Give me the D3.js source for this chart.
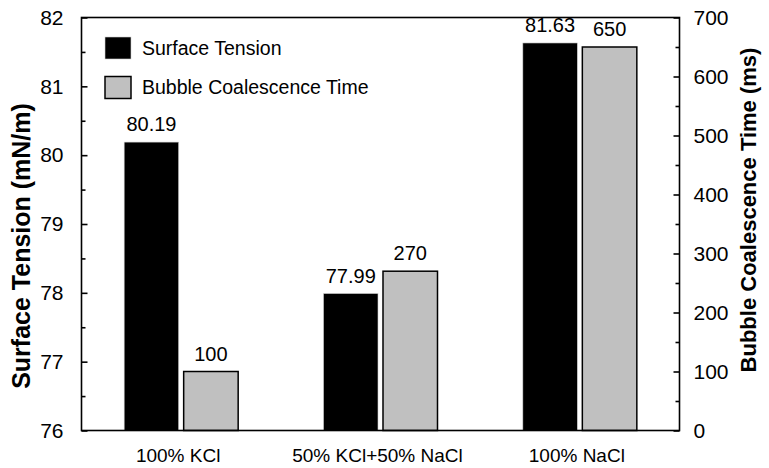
<!DOCTYPE html>
<html>
<head>
<meta charset="utf-8">
<script src="https://cdn.jsdelivr.net/npm/d3@7/dist/d3.min.js"></script>
<style>
  html, body { margin: 0; padding: 0; background: #fff; }
  svg { display: block; font-family: "Liberation Sans", Arial, sans-serif; }
</style>
</head>
<body>
<svg id="chart" width="769" height="468"></svg>
<script>
const categories = ["100% KCl", "50% KCl+50% NaCl", "100% NaCl"];
const seriesNames = ["Surface Tension", "Bubble Coalescence Time"];
const surfaceTension = [80.19, 77.99, 81.63];
const coalescenceTime = [100, 270, 650];
const leftTicks = [76, 77, 78, 79, 80, 81, 82];
const rightTicks = [0, 100, 200, 300, 400, 500, 600, 700];

const svg = d3.select("#chart");
const m = { left: 81.5, right: 679.5, top: 17.5, bottom: 430.5 };

const x0 = d3.scaleBand().domain(categories).range([m.left, m.right]).paddingInner(0).paddingOuter(0);
const groupW = 114;
const x1 = d3.scaleBand().domain(seriesNames).range([0, groupW]).paddingInner(0.084).paddingOuter(0);
const yL = d3.scaleLinear().domain([76, 82]).range([m.bottom, m.top]);
const yR = d3.scaleLinear().domain([0, 700]).range([m.bottom, m.top]);

const rows = categories.map((c, i) => ({ cat: c, st: surfaceTension[i], ct: coalescenceTime[i] }));

// bars
const g = svg.append("g");
const groups = g.selectAll("g.grp").data(rows).join("g")
  .attr("transform", d => `translate(${x0(d.cat) + x0.bandwidth() / 2 - groupW / 2},0)`);

groups.append("rect")
  .attr("x", x1(seriesNames[0]))
  .attr("width", x1.bandwidth())
  .attr("y", d => yL(d.st))
  .attr("height", d => m.bottom - yL(d.st))
  .attr("fill", "#000")
  .attr("stroke", "#d0d0d0").attr("stroke-width", 0.6);

groups.append("rect")
  .attr("x", x1(seriesNames[1]))
  .attr("width", x1.bandwidth())
  .attr("y", d => yR(d.ct))
  .attr("height", d => m.bottom - yR(d.ct))
  .attr("fill", "#c0c0c0")
  .attr("stroke", "#000").attr("stroke-width", 1.5);

// value labels
groups.append("text")
  .attr("x", x1(seriesNames[0]) + x1.bandwidth() / 2)
  .attr("y", d => yL(d.st) - 11)
  .attr("text-anchor", "middle").attr("font-size", 20).attr("fill", "#000")
  .text(d => d.st.toFixed(2));
groups.append("text")
  .attr("x", x1(seriesNames[1]) + x1.bandwidth() / 2)
  .attr("y", d => yR(d.ct) - 11)
  .attr("text-anchor", "middle").attr("font-size", 20).attr("fill", "#000")
  .text(d => d.ct);

// frame
svg.append("rect")
  .attr("x", m.left).attr("y", m.top)
  .attr("width", m.right - m.left).attr("height", m.bottom - m.top)
  .attr("fill", "none").attr("stroke", "#000").attr("stroke-width", 1.6);

// left axis (ticks inward)
const leftMinor = d3.range(76.5, 82, 1);
const axL = svg.append("g").attr("transform", `translate(${m.left},0)`)
  .call(d3.axisLeft(yL).tickValues(leftTicks).tickSizeInner(-6).tickSizeOuter(0).tickPadding(18).tickFormat(d3.format("d")));
axL.select(".domain").remove();
axL.selectAll("text").attr("font-size", 21).attr("fill", "#000").attr("font-family", "Liberation Sans, Arial, sans-serif");
axL.selectAll("line").attr("stroke", "#000").attr("stroke-width", 1.6);
const axLm = svg.append("g").attr("transform", `translate(${m.left},0)`)
  .call(d3.axisLeft(yL).tickValues(leftMinor).tickSizeInner(-4).tickSizeOuter(0).tickFormat(""));
axLm.select(".domain").remove();
axLm.selectAll("line").attr("stroke", "#000").attr("stroke-width", 1.6);

// right axis (ticks inward)
const rightMinor = d3.range(50, 700, 100);
const axR = svg.append("g").attr("transform", `translate(${m.right},0)`)
  .call(d3.axisRight(yR).tickValues(rightTicks).tickSizeInner(-6).tickSizeOuter(0).tickPadding(14).tickFormat(d3.format("d")));
axR.select(".domain").remove();
axR.selectAll("text").attr("font-size", 21).attr("fill", "#000").attr("font-family", "Liberation Sans, Arial, sans-serif");
axR.selectAll("line").attr("stroke", "#000").attr("stroke-width", 1.6);
const axRm = svg.append("g").attr("transform", `translate(${m.right},0)`)
  .call(d3.axisRight(yR).tickValues(rightMinor).tickSizeInner(-4).tickSizeOuter(0).tickFormat(""));
axRm.select(".domain").remove();
axRm.selectAll("line").attr("stroke", "#000").attr("stroke-width", 1.6);

// category labels
svg.append("g").selectAll("text").data(categories).join("text")
  .attr("x", d => x0(d) + x0.bandwidth() / 2 - 3)
  .attr("y", 462)
  .attr("text-anchor", "middle").attr("font-size", 19).attr("fill", "#000")
  .text(d => d);

// axis titles
svg.append("text")
  .attr("transform", "translate(30,246) rotate(-90)")
  .attr("text-anchor", "middle").attr("font-size", 25).attr("font-weight", "bold")
  .text("Surface Tension (mN/m)");
svg.append("text")
  .attr("transform", "translate(756,210) rotate(-90)")
  .attr("text-anchor", "middle").attr("font-size", 22).attr("font-weight", "bold")
  .text("Bubble Coalescence Time (ms)");

// legend
const lg = svg.append("g");
const legendY = [48, 87.5];
const legendFill = ["#000", "#c0c0c0"];
const li = lg.selectAll("g").data(seriesNames).join("g")
  .attr("transform", (d, i) => `translate(105,${legendY[i]})`);
li.append("rect")
  .attr("x", 0).attr("y", -11).attr("width", 26).attr("height", 22)
  .attr("fill", (d, i) => legendFill[i])
  .attr("stroke", (d, i) => i === 0 ? "#d0d0d0" : "#000")
  .attr("stroke-width", (d, i) => i === 0 ? 0.6 : 1.5);
li.append("text")
  .attr("x", 37).attr("y", 0).attr("dy", "0.35em")
  .attr("font-size", 19.5).attr("fill", "#000")
  .text(d => d);
</script>
</body>
</html>
